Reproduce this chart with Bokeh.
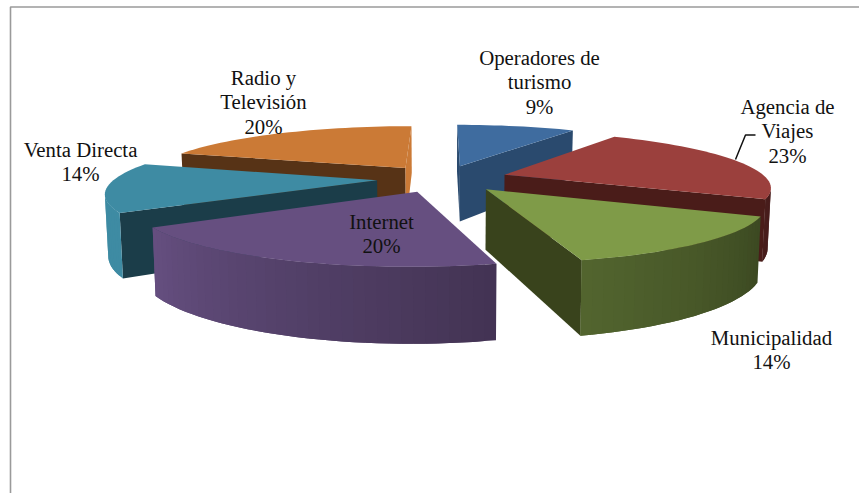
import math
from bokeh.plotting import figure
from bokeh.embed import file_html
from bokeh.resources import INLINE
from bokeh.core.properties import value

# data
categories = ["Operadores de turismo", "Agencia de Viajes", "Municipalidad", "Internet", "Venta Directa", "Radio y Televisión"]
shares = [9, 23, 14, 20, 14, 20]
top_colors = ["#3F6C9F", "#9B403D", "#7F9B48", "#664F80", "#3E8BA3", "#CB7A36"]
radial_colors = ["#2A4A6E", "#4A1C19", "#39431C", "#41304F", "#1B3D49", "#573316"]
label_lines = [["Operadores de", "turismo", "9%"], ["Agencia de", "Viajes", "23%"], ["Municipalidad", "14%"],
               ["Internet", "20%"], ["Venta Directa", "14%"], ["Radio y", "Televisión", "20%"]]
label_x = [539, 787, 771, 381, 80, 263]
label_y = [57, 106, 337, 221, 149, 77]
draw_order = [0, 1, 5, 4, 3, 2]

# projection (pixels)
CX, CY, R, H, D, EXPL, P, Q = 442, 178, 262, 54, 58, 0.25, 0.2, 0.0
LINE_H = 24.4

def project(X, Y, bottom=False):
    s = 1 / (1 + P * Y + Q * X)
    x = CX + R * X * s
    y = CY - H * Y * s
    if bottom:
        x = CX + (x - CX) * 0.99
        y += D * s
    return x, y

def hex2rgb(h):
    return [int(h[i:i + 2], 16) for i in (1, 3, 5)]

def shade(h, f):
    return "#%02x%02x%02x" % tuple(min(255, int(c * f)) for c in hex2rgb(h))

def arc_shade(t):
    pts = [(90, .45), (115, .47), (165, .65), (237, 1.0), (360, 1.0)]
    for (a, fa), (b, fb) in zip(pts, pts[1:]):
        if a <= t <= b:
            return fa + (fb - fa) * (t - a) / (b - a)
    return .45

def area(q):
    return sum(q[i][0] * q[(i + 1) % len(q)][1] - q[(i + 1) % len(q)][0] * q[i][1] for i in range(len(q)))

xs, ys, fills = [], [], []
def add(poly, color):
    xs.append([a for a, _ in poly])
    ys.append([b for _, b in poly])
    fills.append(color)

total = sum(shares)
starts = [sum(shares[:i]) / total * 360 for i in range(len(shares))]

for i in draw_order:
    a0, a1 = starts[i], starts[i] + shares[i] / total * 360
    m = math.radians((a0 + a1) / 2)
    ox, oy = EXPL * math.sin(m), EXPL * math.cos(m)
    n = max(2, int((a1 - a0) / 2))
    angs = [a0 + (a1 - a0) * k / n for k in range(n + 1)]
    world = [(ox + math.sin(math.radians(t)), oy + math.cos(math.radians(t))) for t in angs]
    apex = (ox, oy)
    # radial walls
    for u, v, col in ((apex, world[0], radial_colors[i]), (world[-1], apex, radial_colors[i])):
        q = [project(*u), project(*v), project(*v, True), project(*u, True)]
        if area(q) < 0:
            add(q, top_colors[i] if (u is world[-1] and a1 == 360) else col)
    # outer wall: each band runs under the next one so no seams show
    for k in range(n):
        e = min(k + 2, n)
        q = [project(*world[j]) for j in range(k, e + 1)] + [project(*world[j], True) for j in range(e, k - 1, -1)]
        if area(q) < 0:
            add(q, shade(top_colors[i], arc_shade((angs[k] + angs[k + 1]) / 2)))
    # top
    add([project(*apex)] + [project(*w) for w in world], top_colors[i])

p = figure(width=859, height=493, x_range=(0, 859), y_range=(493, 0), output_backend="svg",
           toolbar_location=None, min_border=0, outline_line_color=None, background_fill_color="white")
p.axis.visible = False
p.grid.visible = False
p.patches(xs, ys, fill_color=fills, line_color=None)

# frame
p.line([10, 10, 859], [493, 6.5, 6.5], line_color="#9a9a9a", line_width=1.6)
# leader line
p.line([735, 745, 755], [159, 134.5, 134.5], line_color="#111111", line_width=1.5)

tx, ty, tt = [], [], []
for lines, x, y in zip(label_lines, label_x, label_y):
    for j, t in enumerate(lines):
        tx.append(x); ty.append(y + j * LINE_H); tt.append(t)
p.text(tx, ty, text=tt, text_font=value("Liberation Serif"), text_font_size="20.8px", text_color="#111111",
       text_align="center", text_baseline="middle")

open("out.html", "w").write(file_html(p, INLINE))
